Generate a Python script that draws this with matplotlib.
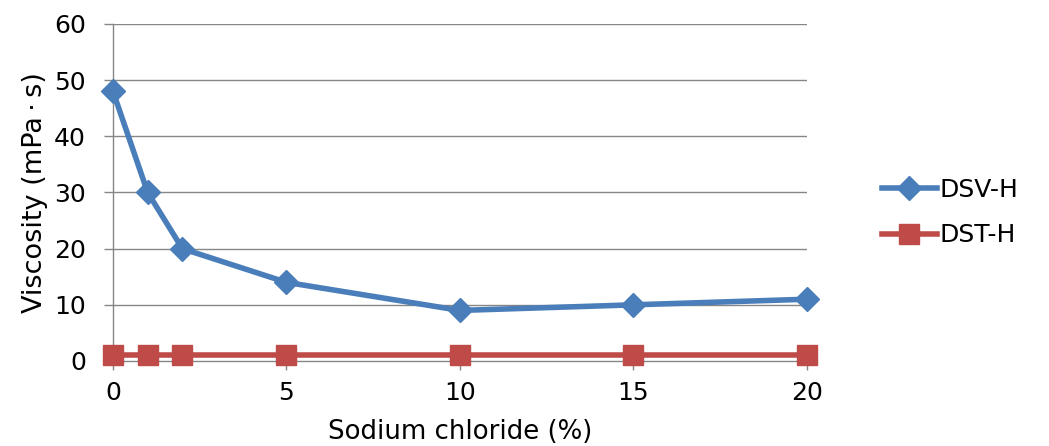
import matplotlib
matplotlib.use("Agg")
import matplotlib.pyplot as plt

plt.rcParams["font.family"] = ["DejaVu Sans", "Noto Sans CJK JP"]

# data
nacl = [0, 1, 2, 5, 10, 15, 20]
dsv_h = [48, 30, 20, 14, 9, 10, 11]
dst_h = [1, 1, 1, 1, 1, 1, 1]
y_ticks = [0, 10, 20, 30, 40, 50, 60]
x_ticks = [0, 5, 10, 15, 20]

fig = plt.figure(figsize=(10.49, 4.46), dpi=100)
ax = fig.add_axes([0.1077, 0.1906, 0.6616, 0.7556])

grid_c = "#868686"
for y in y_ticks[1:]:
    ax.axhline(y, color=grid_c, lw=1.0, zorder=0)

ax.plot(nacl, dsv_h, color="#4a7ebb", lw=4, marker="D", ms=12,
        label="DSV-H", zorder=3, clip_on=False)
ax.plot(nacl, dst_h, color="#be4b48", lw=4, marker="s", ms=14,
        label="DST-H", zorder=3, clip_on=False)

ax.set_xlim(0, 20)
ax.set_ylim(0, 60)
ax.set_xticks(x_ticks)
ax.set_yticks(y_ticks)
ax.tick_params(axis="both", labelsize=18, color=grid_c, length=6.5, width=1.0)
ax.tick_params(axis="x", pad=8)
ax.tick_params(axis="y", pad=13)
for s in ["top", "right"]:
    ax.spines[s].set_visible(False)
for s in ["left", "bottom"]:
    ax.spines[s].set_color(grid_c)
    ax.spines[s].set_linewidth(1.0)

ax.set_xlabel("Sodium chloride (%)", fontsize=18.7, labelpad=10)
ax.set_ylabel("Viscosity (mPa\u2009·\u2009s)", fontsize=19.5, labelpad=4)

ax.legend(loc="center left", bbox_to_anchor=(1.075, 0.44), frameon=False,
          fontsize=18, handlelength=2.2, handletextpad=0.1, labelspacing=0.85)

plt.savefig("out.png", dpi=100)
